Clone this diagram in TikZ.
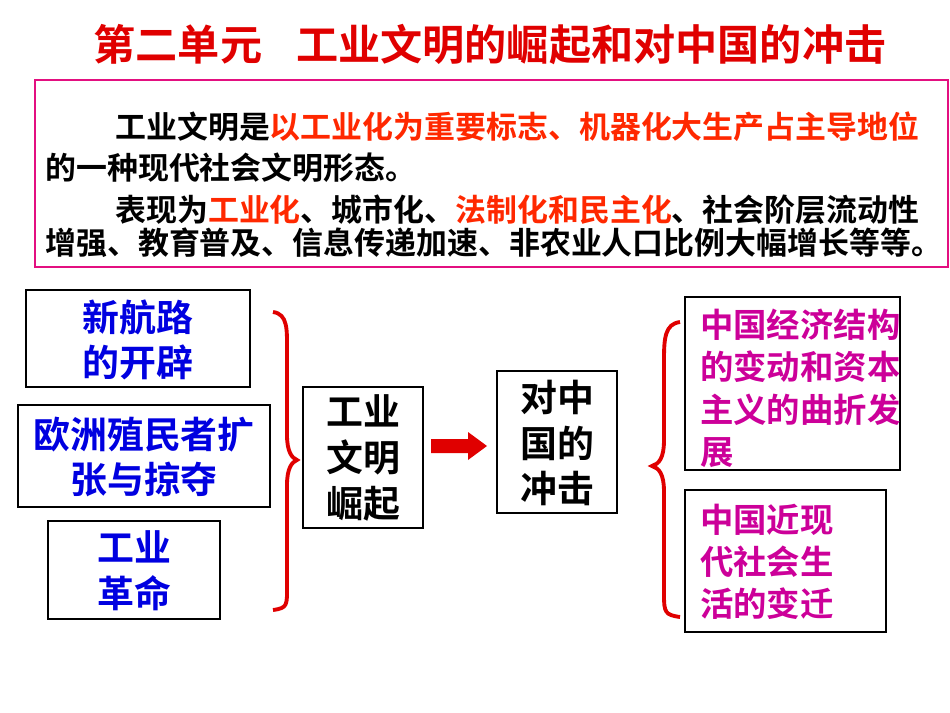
\documentclass[tikz,border=0pt]{standalone}
\usepackage{fontspec}
\setmainfont{Noto Sans CJK SC}[BoldFont={Noto Sans CJK SC Bold}]
\definecolor{tred}{HTML}{E00000}
\definecolor{ored}{HTML}{FF2800}
\definecolor{bblue}{HTML}{0000E0}
\definecolor{mag}{HTML}{CC0099}
\tikzset{box/.style={draw=black,line width=0.8pt,inner sep=0pt},
 lbl/.style={font=\bfseries\fontsize{21pt}{26pt}\selectfont,align=center},
 para/.style={anchor=west,inner sep=0pt,font=\bfseries\fontsize{17.6pt}{20pt}\selectfont},
 brace/.style={draw=tred,line width=2.2pt}}
\begin{document}
\begin{tikzpicture}[x=0.02cm,y=-0.02cm]
\useasboundingbox (0,0) rectangle (950,713);
\node[font=\bfseries\fontsize{24pt}{28pt}\selectfont,text=tred] (title) at (490,45) {第二单元\hspace{0.8em}工业文明的崛起和对中国的冲击};
\draw[draw=magenta!80!purple,line width=1.5pt] (35,80) rectangle (948,267);
\node[para] (p1) at (115,127) {工业文明是\textcolor{ored}{以工业化为重要标志、机器化大生产占主导地位}};
\node[para] (p2) at (45,168) {的一种现代社会文明形态。};
\node[para] (p3) at (115,210) {表现为\textcolor{ored}{工业化}、城市化、\textcolor{ored}{法制化和民主化}、社会阶层流动性};
\node[para] (p4) at (45,243) {增强、教育普及、信息传递加速、非农业人口比例大幅增长等等。};
\draw[box] (26,290) rectangle (250,387);
\node[lbl,text=bblue] (n1) at (138,340) {新航路\\的开辟};
\draw[box] (18,405) rectangle (270,507);
\node[lbl,text=bblue] (n2) at (144,457) {欧洲殖民者扩\\张与掠夺};
\draw[box] (48,521) rectangle (220,619);
\node[lbl,text=bblue] (n3) at (134,571) {工业\\革命};
\draw[brace] (273,312) .. controls (288,314) and (287,330) .. (287,350) -- (287,435) .. controls (287,452) and (292,458) .. (297,460) .. controls (292,462) and (287,468) .. (287,485) -- (287,585) .. controls (287,605) and (288,608) .. (273,610);
\draw[box] (303,387) rectangle (423,528);
\node[lbl,text=black] (n4) at (363,458) {工业\\文明\\崛起};
\draw[box] (497,371) rectangle (617,513);
\node[lbl,text=black] (n5) at (557,443) {对中\\国的\\冲击};
\fill[tred] (431,439) -- (468,439) -- (468,432) -- (487,446) -- (468,460) -- (468,453) -- (431,453) -- cycle;
\draw[brace] (680,322) .. controls (665,324) and (664,338) .. (664,360) -- (664,440) .. controls (664,458) and (659,464) .. (652,466) .. controls (659,468) and (664,474) .. (664,492) -- (664,595) .. controls (664,612) and (665,615) .. (680,617);
\draw[box] (685,297) rectangle (900,470);
\node[lbl,align=left,text=mag,anchor=north west,font=\bfseries\fontsize{19pt}{24pt}\selectfont] (n6) at (694,303) {中国经济结构\\的变动和资本\\主义的曲折发\\展};
\draw[box] (685,490) rectangle (886,632);
\node[lbl,align=left,text=mag,anchor=north west,font=\bfseries\fontsize{19pt}{24pt}\selectfont] (n7) at (694,498) {中国近现\\代社会生\\活的变迁};
\end{tikzpicture}
\end{document}
